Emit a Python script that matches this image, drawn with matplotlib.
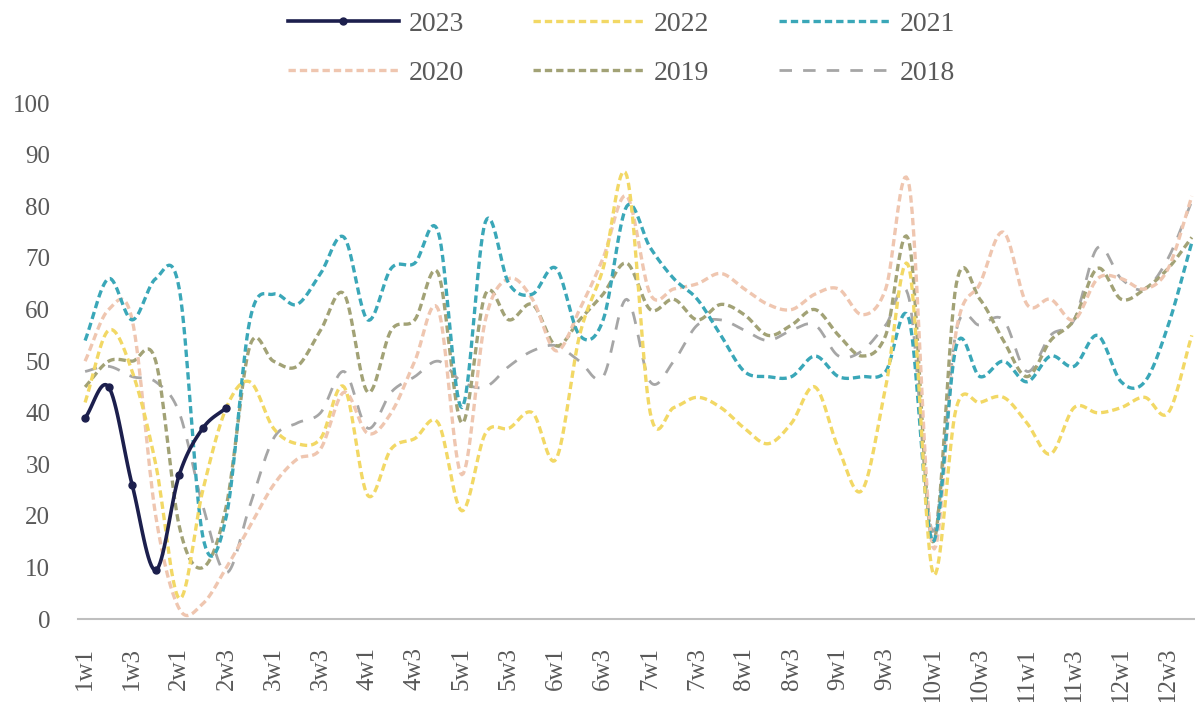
import numpy as np
import matplotlib
matplotlib.use("Agg")
import matplotlib.pyplot as plt

plt.rcParams["font.family"] = ["Liberation Serif", "DejaVu Serif"]

# week categories: month 1..12, week 1..4
weeks = [f"{m}w{w}" for m in range(1, 13) for w in range(1, 5)]

y2023 = [39, 45, 26, 9.5, 28, 37, 41]
y2022 = [42, 56, 48, 30, 4, 25, 41, 46, 37, 34, 35, 45, 24, 33, 35, 38,
         21, 36, 37, 40, 31, 55, 68, 86, 40, 41, 43, 41, 37, 34, 38, 45,
         33, 25, 45, 68, 9, 41, 42, 43, 38, 32, 41, 40, 41, 43, 40, 55]
y2021 = [54, 66, 58, 66, 64, 16, 20, 58, 63, 61, 67, 74, 58, 68, 69, 75,
         41, 77, 65, 63, 68, 55, 58, 80, 72, 66, 62, 55, 48, 47, 47, 51,
         47, 47, 48, 58, 15, 53, 47, 50, 46, 51, 49, 55, 46, 46, 57, 73]
y2020 = [50, 60, 58, 20, 2, 3, 10, 18, 26, 31, 33, 44, 36, 40, 50, 60,
         28, 58, 66, 62, 52, 60, 70, 82, 63, 64, 65, 67, 64, 61, 60, 63,
         64, 59, 64, 84, 14, 56, 65, 75, 61, 62, 58, 66, 66, 64, 68, 82]
y2019 = [45, 50, 50, 50, 18, 10, 22, 53, 50, 49, 56, 63, 44, 56, 58, 67,
         38, 63, 58, 61, 53, 58, 63, 69, 60, 62, 58, 61, 59, 55, 57, 60,
         55, 51, 55, 73, 15, 65, 62, 54, 47, 54, 58, 68, 62, 64, 68, 74]
y2018 = [48, 49, 47, 46, 40, 22, 9, 22, 35, 38, 40, 48, 37, 44, 47, 50,
         46, 45, 49, 52, 53, 50, 47, 62, 46, 50, 57, 58, 56, 54, 56, 57,
         51, 52, 57, 62, 17, 56, 57, 58, 48, 55, 58, 72, 66, 64, 70, 81]


def smooth(ys, steps=16):
    """Catmull-Rom curve through the points (index, value)."""
    x = np.arange(len(ys), dtype=float)
    y = np.asarray(ys, dtype=float)
    px = np.concatenate([[2 * x[0] - x[1]], x, [2 * x[-1] - x[-2]]])
    py = np.concatenate([[2 * y[0] - y[1]], y, [2 * y[-1] - y[-2]]])
    t = np.linspace(0, 1, steps, endpoint=False)
    xs, ys_out = [], []
    for i in range(len(x) - 1):
        for p, out in ((px, xs), (py, ys_out)):
            p0, p1, p2, p3 = p[i:i + 4]
            out.append(0.5 * (2 * p1 + (-p0 + p2) * t
                              + (2 * p0 - 5 * p1 + 4 * p2 - p3) * t ** 2
                              + (-p0 + 3 * p1 - 3 * p2 + p3) * t ** 3))
    xs.append([x[-1]])
    ys_out.append([y[-1]])
    return np.concatenate(xs), np.concatenate(ys_out)


fig = plt.figure(figsize=(11.95, 7.02), dpi=100)
ax = fig.add_axes([0.0653, 0.118, 0.934, 0.735])

series = [
    ("2018", y2018, dict(color="#a6a6a6", lw=2.0, dashes=(4.5, 4))),
    ("2019", y2019, dict(color="#a2a276", lw=2.4, dashes=(2.2, 1.2))),
    ("2020", y2020, dict(color="#efc6b0", lw=2.4, dashes=(2.2, 1.2))),
    ("2021", y2021, dict(color="#3aa7b8", lw=2.4, dashes=(2.2, 1.2))),
    ("2022", y2022, dict(color="#f2d865", lw=2.4, dashes=(2.2, 1.2))),
]
handles = {}
for name, vals, style in series:
    sx, sy = smooth(vals)
    handles[name], = ax.plot(sx, sy, label=name, **style)

sx, sy = smooth(y2023)
ax.plot(sx, sy, color="#1c1f4d", lw=2.6, zorder=5)
ax.plot(np.arange(len(y2023)), y2023, "o", color="#1c1f4d", ms=5, zorder=6)
handles["2023"], = ax.plot([], [], color="#1c1f4d", lw=2.6, marker="o", ms=5)

ax.set_xlim(-0.3, 47.1)
ax.set_ylim(0, 100)

ax.set_xticks(range(0, 48, 2))
ax.set_xticklabels(weeks[::2], rotation=90, va="top", ha="center")
ax.set_xticks(range(0, 48, 4), minor=True)
ax.tick_params(axis="x", which="major", length=0, pad=20, labelsize=18,
               labelcolor="#595959")
ax.tick_params(axis="x", which="minor", length=6, width=1.2, direction="in",
               color="#bfbfbf")
ax.set_yticks(range(0, 101, 10))
ax.tick_params(axis="y", length=0, pad=20, labelsize=18, labelcolor="#595959")

for side in ("top", "right", "left"):
    ax.spines[side].set_visible(False)
ax.spines["bottom"].set_color("#bfbfbf")
ax.spines["bottom"].set_linewidth(1.5)

order = ["2023", "2020", "2022", "2019", "2021", "2018"]
fig.legend([handles[k] for k in order], order, loc="center",
           bbox_to_anchor=(0.52, 0.931), ncol=3, frameon=False,
           fontsize=20, handlelength=4.0, handletextpad=0.35,
           columnspacing=2.5, labelspacing=0.85, labelcolor="#595959")

fig.savefig("out.png", dpi=100, facecolor="white")
